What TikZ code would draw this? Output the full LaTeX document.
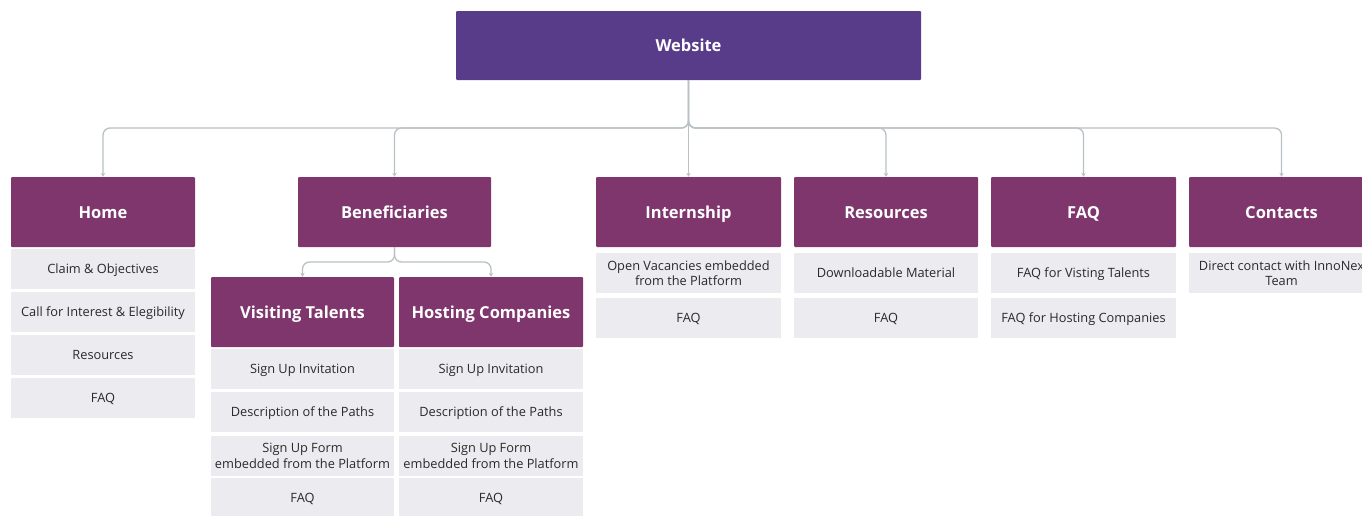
\documentclass[tikz,border=0pt]{standalone}
\usepackage{fontspec}
\setmainfont{Open Sans}
\newfontfamily\hdfont{Open Sans}
\usetikzlibrary{arrows.meta}
\definecolor{webpurple}{HTML}{583C8A}
\definecolor{plum}{HTML}{7E366C}
\definecolor{itemgray}{HTML}{ECEBEF}
\definecolor{conngray}{HTML}{B9C1C5}
\definecolor{textdark}{HTML}{2A2A2A}
\tikzset{
  topbox/.style={fill=plum, minimum height=70pt, text=white, font=\hdfont\bfseries\fontsize{16.5}{19}\selectfont, inner sep=0pt, rounded corners=1pt, text height=14pt, text depth=2pt},
  itembox/.style={fill=itemgray, minimum height=40pt, align=center, font=\fontsize{12.8}{15.5}\selectfont, inner sep=0pt, text=textdark},
  itemone/.style={itembox, text height=11pt, text depth=2pt},
  conn/.style={draw=conngray, line width=1.3pt, rounded corners=7pt, -{Stealth[length=4pt,width=4.5pt]}},
}
\begin{document}
\begin{tikzpicture}[x=1pt,y=-1pt]
\useasboundingbox (0,0) rectangle (1362,515);
% root
\node[topbox, fill=webpurple, minimum width=465pt, minimum height=69pt] (web) at (688.5,45.5) {Website};
% top level
\node[topbox, minimum width=184pt] (home) at (103,212) {Home};
\node[topbox, minimum width=193pt] (ben) at (394.5,212) {Beneficiaries};
\node[topbox, minimum width=185pt] (int) at (688.5,212) {Internship};
\node[topbox, minimum width=184pt] (res) at (886,212) {Resources};
\node[topbox, minimum width=185pt] (faq) at (1083.5,212) {FAQ};
\node[topbox, minimum width=185pt] (con) at (1281.5,212) {Contacts};
% second level
\node[topbox, minimum width=183pt] (vt) at (302.5,312) {Visiting Talents};
\node[topbox, minimum width=184pt] (hc) at (491,312) {Hosting Companies};
% home items
\node[itemone, minimum width=184pt] (h1) at (103,269) {Claim \& Objectives};
\node[itemone, minimum width=184pt] (h2) at (103,312) {Call for Interest \& Elegibility};
\node[itemone, minimum width=184pt] (h3) at (103,355) {Resources};
\node[itemone, minimum width=184pt] (h4) at (103,398) {FAQ};
% visiting talents items
\node[itemone, minimum width=183pt] (v1) at (302.5,369) {Sign Up Invitation};
\node[itemone, minimum width=183pt] (v2) at (302.5,412) {Description of the Paths};
\node[itembox, minimum width=183pt] (v3) at (302.5,456) {Sign Up Form\\embedded from the Platform};
\node[itemone, minimum width=183pt] (v4) at (302.5,498) {FAQ};
% hosting companies items
\node[itemone, minimum width=184pt] (c1) at (491,369) {Sign Up Invitation};
\node[itemone, minimum width=184pt] (c2) at (491,412) {Description of the Paths};
\node[itembox, minimum width=184pt] (c3) at (491,456) {Sign Up Form\\embedded from the Platform};
\node[itemone, minimum width=184pt] (c4) at (491,498) {FAQ};
% internship items
\node[itembox, minimum width=185pt] (i1) at (688.5,273) {Open Vacancies embedded\\from the Platform};
\node[itemone, minimum width=185pt] (i2) at (688.5,318) {FAQ};
% resources items
\node[itemone, minimum width=184pt] (r1) at (886,273) {Downloadable Material};
\node[itemone, minimum width=184pt] (r2) at (886,318) {FAQ};
% faq items
\node[itemone, minimum width=185pt] (f1) at (1083.5,273) {FAQ for Visting Talents};
\node[itemone, minimum width=185pt] (f2) at (1083.5,318) {FAQ for Hosting Companies};
% contacts items
\node[itembox, minimum width=185pt] (k1) at (1281.5,273) {Direct contact with InnoNex\\Team};
% connectors
\coordinate (bus) at (688.5,128);
\draw[conn] (web.south) -- (bus) -- (home.north |- bus) -- (home.north);
\draw[conn] (web.south) -- (bus) -- (ben.north |- bus) -- (ben.north);
\draw[conn] (web.south) -- (int.north);
\draw[conn] (web.south) -- (bus) -- (res.north |- bus) -- (res.north);
\draw[conn] (web.south) -- (bus) -- (faq.north |- bus) -- (faq.north);
\draw[conn] (web.south) -- (bus) -- (con.north |- bus) -- (con.north);
\coordinate (bbus) at (394.5,262);
\draw[conn] (ben.south) -- (bbus) -- (vt.north |- bbus) -- (vt.north);
\draw[conn] (ben.south) -- (bbus) -- (hc.north |- bbus) -- (hc.north);
\end{tikzpicture}
\end{document}
